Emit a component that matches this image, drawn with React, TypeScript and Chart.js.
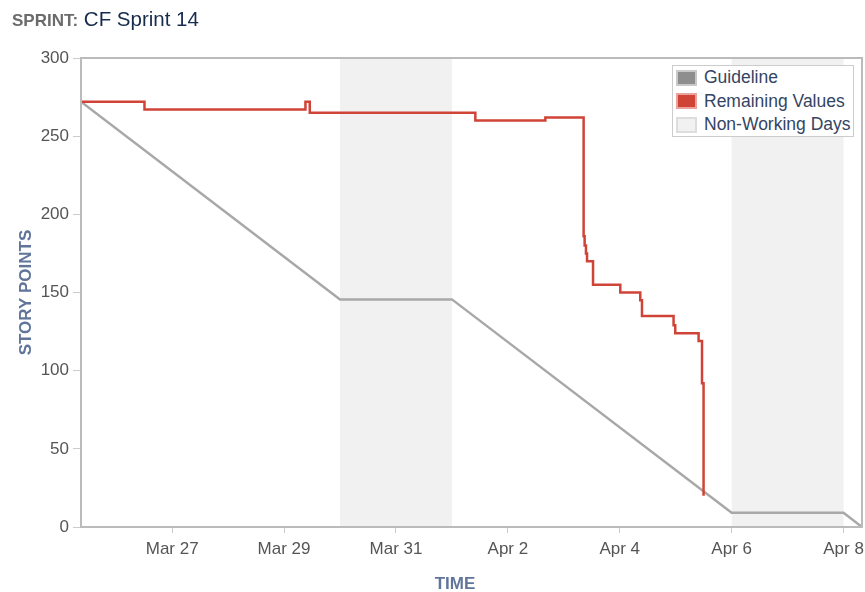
import React, { useEffect, useRef } from "react";
import { Chart, registerables } from "chart.js";

Chart.register(...registerables);

const FONT = "'Liberation Sans', Arial, Helvetica, sans-serif";

const SPRINT_NAME = "CF Sprint 14";
const ORIGIN = "2019-03-25T00:00";
const SPRINT_START = "2019-03-25T08:53";
const SPRINT_END = "2019-04-08T07:55";

const tickDates = [
  "2019-03-27T00:00",
  "2019-03-29T00:00",
  "2019-03-31T00:00",
  "2019-04-02T00:00",
  "2019-04-04T00:00",
  "2019-04-06T00:00",
  "2019-04-08T00:00",
];
const tickLabels = ["Mar 27", "Mar 29", "Mar 31", "Apr 2", "Apr 4", "Apr 6", "Apr 8"];

const guidelineTimes = [
  SPRINT_START,
  "2019-03-30T00:00",
  "2019-04-01T00:00",
  "2019-04-06T00:00",
  "2019-04-08T00:00",
  SPRINT_END,
];
const guidelineValues = [272, 145.6, 145.6, 9.1, 9.1, 0];

const remainingTimes = [
  "2019-03-25T08:53",
  "2019-03-26T12:07",
  "2019-03-29T09:10",
  "2019-03-29T11:01",
  "2019-04-01T10:03",
  "2019-04-02T16:05",
  "2019-04-03T08:30",
  "2019-04-03T08:56",
  "2019-04-03T09:30",
  "2019-04-03T09:58",
  "2019-04-03T12:32",
  "2019-04-04T00:14",
  "2019-04-04T08:48",
  "2019-04-04T09:32",
  "2019-04-04T23:05",
  "2019-04-04T23:48",
  "2019-04-05T09:49",
  "2019-04-05T11:17",
  "2019-04-05T11:57",
];
const remainingValues = [272, 267, 272, 265, 260, 262, 186, 180, 175, 170, 155, 150, 145, 135, 129, 124, 119, 92, 20];

const nonWorkingStarts = ["2019-03-30T00:00", "2019-04-06T00:00"];
const nonWorkingEnds = ["2019-04-01T00:00", "2019-04-08T00:00"];

const legendLabels = ["Guideline", "Remaining Values", "Non-Working Days"];
const legendFills = ["#8e8e8e", "#d04437", "#f1f1f1"];
const legendBorders = ["#c9c9c9", "#e9a39c", "#dddddd"];

function parseUTC(s: string): number {
  const [d, t = "00:00"] = s.split("T");
  const [y, m, day] = d.split("-").map(Number);
  const [hh, mm] = t.split(":").map(Number);
  return Date.UTC(y, m - 1, day, hh, mm);
}
const ORIGIN_MS = parseUTC(ORIGIN);
function toDays(s: string): number {
  return (parseUTC(s) - ORIGIN_MS) / 86400000;
}

const shadingPlugin = {
  id: "nonWorkingDays",
  beforeDatasetsDraw(chart: any) {
    const { ctx, chartArea, scales } = chart;
    const x = scales.x;
    ctx.save();
    ctx.fillStyle = "#f1f1f1";
    nonWorkingStarts.forEach((s, i) => {
      const x0 = Math.max(chartArea.left, x.getPixelForValue(toDays(s)));
      const x1 = Math.min(chartArea.right, x.getPixelForValue(toDays(nonWorkingEnds[i])));
      ctx.fillRect(x0, chartArea.top, x1 - x0, chartArea.bottom - chartArea.top);
    });
    ctx.restore();
  },
};

const framePlugin = {
  id: "plotFrame",
  afterDatasetsDraw(chart: any) {
    const { ctx, chartArea } = chart;
    ctx.save();
    ctx.strokeStyle = "#bbbbbb";
    ctx.lineWidth = 2;
    ctx.strokeRect(chartArea.left, chartArea.top, chartArea.right - chartArea.left, chartArea.bottom - chartArea.top);
    ctx.restore();
  },
};

function BurndownChart() {
  const ref = useRef<HTMLCanvasElement | null>(null);
  useEffect(() => {
    if (!ref.current) return;
    const chart = new Chart(ref.current, {
      type: "line",
      data: {
        datasets: [
          {
            label: "Remaining Values",
            data: remainingTimes.map((t, i) => ({ x: toDays(t), y: remainingValues[i] })),
            borderColor: "#d04437",
            backgroundColor: "#d04437",
            borderWidth: 2.5,
            stepped: "before",
            pointRadius: 0,
            fill: false,
            order: 0,
          },
          {
            label: "Guideline",
            data: guidelineTimes.map((t, i) => ({ x: toDays(t), y: guidelineValues[i] })),
            borderColor: "#a8a8a8",
            backgroundColor: "#a8a8a8",
            borderWidth: 2.5,
            pointRadius: 0,
            tension: 0,
            fill: false,
            order: 1,
          },
        ],
      },
      options: {
        responsive: false,
        animation: false,
        devicePixelRatio: 1,
        layout: { padding: { top: 58, right: 3, left: 0, bottom: 0 } },
        plugins: { legend: { display: false }, tooltip: { enabled: false } },
        scales: {
          x: {
            type: "linear",
            min: toDays(SPRINT_START),
            max: toDays(SPRINT_END),
            afterFit: (s: any) => {
              s.height = 65;
              s.paddingLeft = 0;
              s.paddingRight = 0;
            },
            afterBuildTicks: (s: any) => {
              s.ticks = tickDates.map((d) => ({ value: toDays(d) }));
            },
            ticks: {
              autoSkip: false,
              maxRotation: 0,
              color: "#555555",
              padding: 6,
              font: { family: FONT, size: 17 },
              callback: (_v: any, i: number) => tickLabels[i],
            },
            grid: { drawOnChartArea: false, drawTicks: true, tickLength: 6, color: "#cccccc" },
            border: { display: false },
          },
          y: {
            min: 0,
            max: 300,
            afterFit: (s: any) => {
              s.width = 81;
              s.paddingTop = 0;
              s.paddingBottom = 0;
            },
            ticks: {
              stepSize: 50,
              color: "#555555",
              padding: 4,
              font: { family: FONT, size: 17 },
            },
            grid: { drawOnChartArea: false, drawTicks: true, tickLength: 8, color: "#cccccc" },
            border: { display: false },
            title: {
              display: true,
              text: "STORY POINTS",
              color: "#61759a",
              font: { family: FONT, size: 17, weight: "bold" },
              padding: { top: 16, bottom: 0 },
            },
          },
        },
      } as any,
      plugins: [shadingPlugin, framePlugin],
    });
    return () => chart.destroy();
  }, []);
  return <canvas ref={ref} width={865} height={592} style={{ position: "absolute", left: 0, top: 0, width: 865, height: 592 }} />;
}

export default function App() {
  return (
    <div style={{ position: "absolute", left: 0, top: 0, width: 865, height: 592, background: "#fff", overflow: "hidden", fontFamily: FONT }}>
      <BurndownChart />
      <div style={{ position: "absolute", left: 12, top: 0, lineHeight: "37px", whiteSpace: "nowrap" }}>
        <span style={{ fontSize: 17, fontWeight: "bold", color: "#6b6b6b" }}>SPRINT:</span>
        <span style={{ fontSize: 20.5, color: "#172b4d" }}> {SPRINT_NAME}</span>
      </div>
      <div
        style={{
          position: "absolute",
          left: 672,
          top: 65,
          width: 182,
          height: 72,
          boxSizing: "border-box",
          border: "1px solid #cccccc",
          background: "#ffffff",
          paddingLeft: 3,
        }}
      >
        {legendLabels.map((lab, i) => (
          <div key={lab} style={{ display: "flex", alignItems: "center", height: 23.5 }}>
            <div
              style={{
                width: 21,
                height: 16,
                boxSizing: "border-box",
                background: legendFills[i],
                border: `2px solid ${legendBorders[i]}`,
                marginRight: 7,
              }}
            />
            <span style={{ fontSize: 17.5, color: "#344563", whiteSpace: "nowrap" }}>{lab}</span>
          </div>
        ))}
      </div>
      <div
        style={{
          position: "absolute",
          left: 455,
          top: 584,
          transform: "translate(-50%, -50%)",
          fontSize: 17,
          fontWeight: "bold",
          color: "#61759a",
          whiteSpace: "nowrap",
        }}
      >
        TIME
      </div>
    </div>
  );
}
